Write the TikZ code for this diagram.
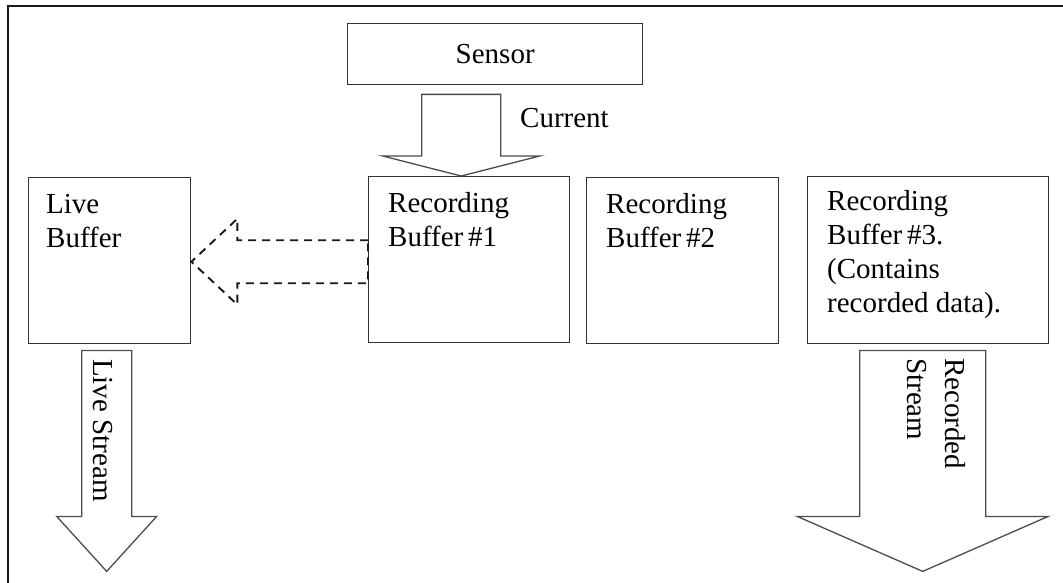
\documentclass[tikz,border=0pt]{standalone}
\usepackage{fontspec}
\setmainfont{Liberation Serif}
\usetikzlibrary{calc, positioning}

% block arrow pointing down: style, tail, tip, shaft half width, head half width, head length
\newcommand{\downblock}[6]{%
  \draw[#1] ($(#2)+(-#4,0)$) -- ($(#3)+(-#4,-#6)$) -- ($(#3)+(-#5,-#6)$) -- (#3)
    -- ($(#3)+(#5,-#6)$) -- ($(#3)+(#4,-#6)$) -- ($(#2)+(#4,0)$) -- cycle;}
% block arrow pointing left, same arguments
\newcommand{\leftblock}[6]{%
  \draw[#1] ($(#2)+(0,-#4)$) -- ($(#3)+(#6,-#4)$) -- ($(#3)+(#6,-#5)$) -- (#3)
    -- ($(#3)+(#6,#5)$) -- ($(#3)+(#6,#4)$) -- ($(#2)+(0,#4)$) -- cycle;}

\begin{document}
\begin{tikzpicture}[x=1pt, y=-1pt,
	font=\fontsize{29}{34}\selectfont,
	buffer/.style={draw=black!80, line width=1.4pt, inner sep=0pt, anchor=north west},
	boxtext/.style={inner sep=0pt, align=left},
	blockline/.style={draw=black!70, line width=1.3pt, line join=miter},
	dashline/.style={draw=black!90, line width=1.9pt, dash pattern=on 8pt off 6pt},
	frame/.style={draw=black!90, line width=2pt}]

	\useasboundingbox (0,0) rectangle (1063,583);
	\draw[frame] (8,583) -- (8,6) -- (1063,6);

	\node[buffer, minimum width=295pt, minimum height=61pt] (sensor) at (347,23) {Sensor};
	\node[buffer, minimum width=162pt, minimum height=166pt] (lb) at (28,177) {};
	\node[buffer, minimum width=201pt, minimum height=166pt] (rb1) at (368,176) {};
	\node[buffer, minimum width=192pt, minimum height=166pt] (rb2) at (586,177) {};
	\node[buffer, minimum width=241pt, minimum height=167pt] (rb3) at (807,176) {};

	\node[boxtext, below right=17pt and 18pt of lb.north west] (lbtext) {Live\\Buffer};
	\node[boxtext, below right=16pt and 20pt of rb1.north west] (rb1text) {Recording\\Buffer\,\#1};
	\node[boxtext, below right=16pt and 20pt of rb2.north west] (rb2text) {Recording\\Buffer\,\#2};
	\node[boxtext, below right=14pt and 20pt of rb3.north west] (rb3text) {Recording\\Buffer\,\#3.\\(Contains\\recorded data).};

	\coordinate (curtail) at ($(sensor.south)+(-34,9)$);
	\coordinate (curtip) at (curtail |- rb1.north);
	\coordinate (lstail) at ($(lb.south)+(-3,6)$);
	\coordinate (lstip) at ($(lstail)+(0,221)$);
	\coordinate (rstail) at ($(rb3.south)+(-5.5,6)$);
	\coordinate (rstip) at ($(rstail)+(0,221)$);
	\coordinate (dtail) at ($(rb1.west)+(0,2)$);
	\coordinate (dtip) at ($(lb.east)+(0,1)$);

	\downblock{blockline}{curtail}{curtip}{39.5}{78.5}{20}
	\downblock{blockline}{lstail}{lstip}{25}{50}{55}
	\downblock{blockline}{rstail}{rstip}{63}{125.5}{55}
	\leftblock{dashline}{dtail}{dtip}{21.5}{43}{46}

	\node[inner sep=0pt, anchor=base west] (curlabel) at (520,128) {Current};
	\node[inner sep=0pt, rotate=-90, anchor=base west] (lslabel) at (93,359) {Live Stream};
	\node[boxtext, rotate=-90, anchor=north west] (rslabel) at (966,358) {Recorded\\[4pt]Stream};

\end{tikzpicture}
\end{document}
